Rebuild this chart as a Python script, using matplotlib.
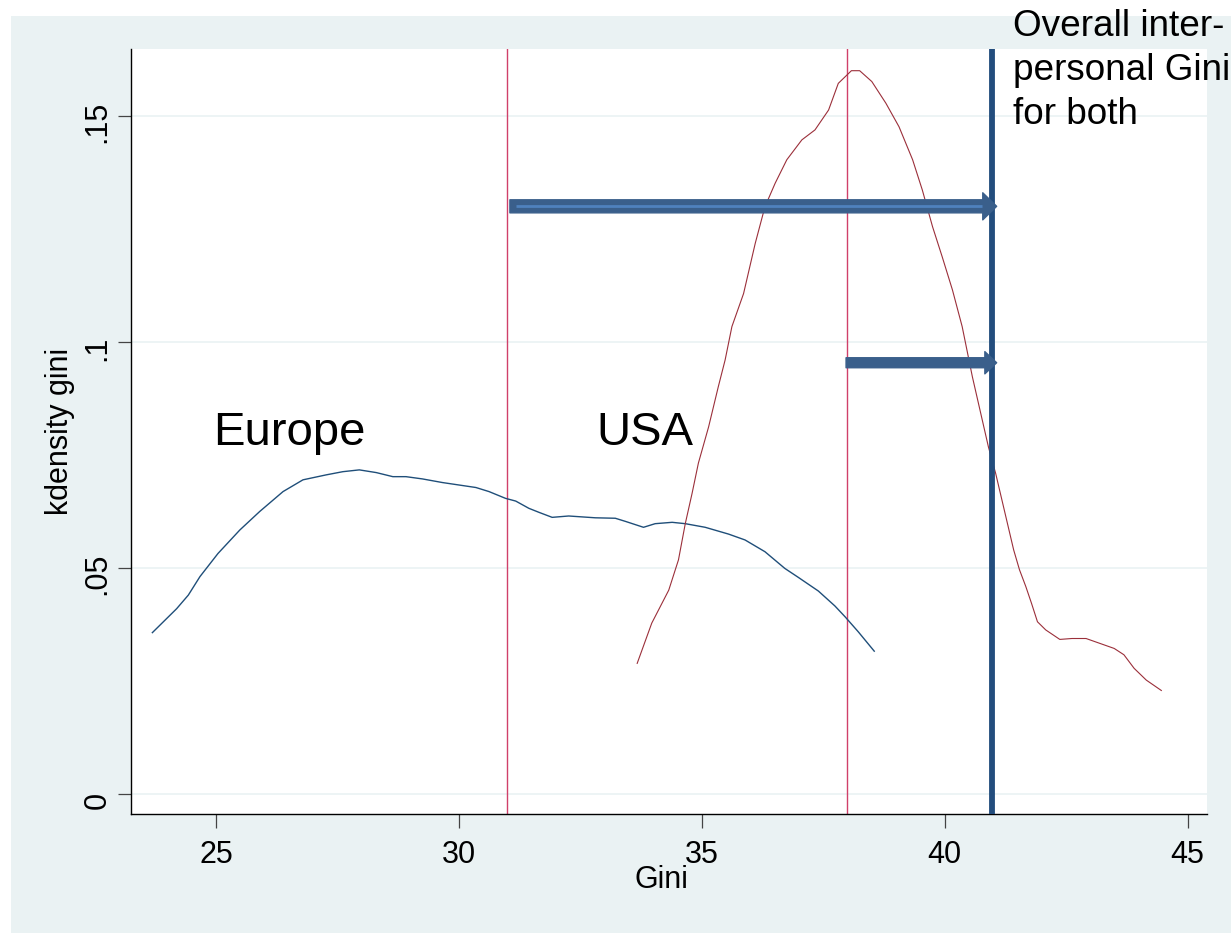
import matplotlib
matplotlib.use("Agg")
import matplotlib.pyplot as plt
import matplotlib.transforms as mtransforms
from matplotlib.patches import Rectangle

plt.rcParams['font.family'] = ['Liberation Sans', 'DejaVu Sans']

# ---------------- data ----------------
europe_x = [23.69, 24.19, 24.43, 24.67, 25.04, 25.49, 25.90, 26.38, 26.79, 27.27,
            27.61, 27.95, 28.30, 28.64, 28.91, 29.25, 29.66, 30.35, 30.62, 30.96,
            31.17, 31.44, 31.65, 31.92, 32.26, 32.81, 33.22, 33.43, 33.80, 34.04,
            34.39, 34.66, 35.07, 35.55, 35.89, 36.30, 36.71, 36.99, 37.40, 37.74,
            37.95, 38.22, 38.55]
europe_y = [.0357, .0410, .0440, .0481, .0532, .0584, .0625, .0669, .0695, .0706,
            .0713, .0717, .0711, .0702, .0702, .0697, .0689, .0678, .0669, .0654,
            .0648, .0632, .0623, .0612, .0615, .0611, .0610, .0603, .0590, .0598,
            .0601, .0598, .0590, .0575, .0562, .0536, .0499, .0479, .0449, .0416,
            .0392, .0359, .0316]

usa_x = [33.67, 33.97, 34.32, 34.52, 34.66, 34.80, 34.93, 35.14, 35.34, 35.48,
         35.62, 35.86, 36.10, 36.30, 36.51, 36.75, 37.06, 37.33, 37.61, 37.81,
         38.08, 38.25, 38.50, 38.79, 39.06, 39.34, 39.54, 39.75, 39.95, 40.16,
         40.36, 40.57, 40.90, 41.05, 41.42, 41.54, 41.67, 41.79, 41.91, 42.08,
         42.37, 42.62, 42.91, 43.20, 43.49, 43.69, 43.90, 44.15, 44.46]
usa_y = [.0289, .0378, .0451, .0518, .0598, .0665, .0732, .0812, .0901, .0960,
         .1034, .1107, .1218, .1299, .1351, .1403, .1447, .1469, .1513, .1572,
         .1600, .1600, .1576, .1528, .1476, .1403, .1336, .1255, .1188, .1115,
         .1034, .0923, .0768, .0709, .0540, .0496, .0459, .0421, .0381, .0363,
         .0342, .0344, .0344, .0333, .0322, .0308, .0278, .0252, .0229]

mean_lines = [30.99, 37.99]          # thin red reference lines
overall_gini = 40.97                 # thick blue line
arrow_starts = [31.05, 37.97]
arrow_ys = [0.1300, 0.0954]

x_ticks = [25, 30, 35, 40, 45]
y_ticks = [0, 0.05, 0.1, 0.15]
y_ticklabels = ["0", ".05", ".1", ".15"]

# ---------------- figure ----------------
W, H = 1231, 935
fig = plt.figure(figsize=(W / 100, H / 100), dpi=100)
fig.patch.set_facecolor("white")
bg = "#EAF2F3"
fig.patches.append(Rectangle((11 / W, 2 / H), 1 - 11 / W, (933 - 16) / H,
                             transform=fig.transFigure, facecolor=bg,
                             edgecolor="none", zorder=-10))

L, R, T, B = 131, 1207, 49, 814
ax = fig.add_axes([L / W, 1 - B / H, (R - L) / W, (B - T) / H])
ax.set_zorder(1)
ax.set_facecolor("white")
ax.set_xlim(23.25, 45.40)
ax.set_ylim(-0.00442, 0.1648)

for s in ["top", "right"]:
    ax.spines[s].set_visible(False)
for s in ["left", "bottom"]:
    ax.spines[s].set_color("black")
    ax.spines[s].set_linewidth(1.0)

ax.set_xticks(x_ticks)
ax.set_xticklabels([str(t) for t in x_ticks])
ax.set_yticks(y_ticks)
ax.set_yticklabels(y_ticklabels)
ax.tick_params(axis="x", length=10, width=0.9, color="#444444", labelsize=22, pad=9)
ax.tick_params(axis="y", length=9.4, width=0.9, color="#444444", labelsize=22, pad=4,
               labelrotation=90)
for lab in ax.get_yticklabels():
    lab.set_va("center")
    lab.set_transform(lab.get_transform() +
                      mtransforms.ScaledTranslation(0, -6 / 100, fig.dpi_scale_trans))

ax.yaxis.grid(True, color=bg, linewidth=1.2)
ax.set_axisbelow(True)

ax.set_xlabel("Gini", fontsize=22)
ax.set_ylabel("kdensity gini", fontsize=22)
ax.xaxis.set_label_coords((661 - L) / (R - L), -(880 - B) / (B - T), transform=ax.transAxes)
ax.xaxis.label.set_va("center")
ax.yaxis.set_label_coords(-(L - 60) / (R - L), 0.5, transform=ax.transAxes)
ax.yaxis.label.set_va("center")

# curves
ax.plot(europe_x, europe_y, color="#1F4E79", linewidth=1.0, zorder=3)
ax.plot(usa_x, usa_y, color="#9B2F3A", linewidth=0.8, zorder=3)

# reference lines
for m in mean_lines:
    ax.axvline(m, color="#D0406A", linewidth=1.0, zorder=2)
ax.axvline(overall_gini, color="#234D7D", linewidth=4.2, zorder=4)

# arrows
arrow_col = "#3A5F8B"
ax.annotate("", xy=(overall_gini + 0.1, arrow_ys[0]), xytext=(arrow_starts[0], arrow_ys[0]),
            arrowprops=dict(arrowstyle="simple,head_length=1.0,head_width=1.95,tail_width=0.94",
                            color=arrow_col, mutation_scale=10, shrinkA=0, shrinkB=0),
            zorder=5)
ax.plot([arrow_starts[0] + 0.12, overall_gini - 0.2], [arrow_ys[0], arrow_ys[0]],
        color="#4F81BD", linewidth=2.0, zorder=6, solid_capstyle="butt")
ax.annotate("", xy=(overall_gini + 0.1, arrow_ys[1]), xytext=(arrow_starts[1], arrow_ys[1]),
            arrowprops=dict(arrowstyle="simple,head_length=0.85,head_width=1.6,tail_width=0.72",
                            color=arrow_col, mutation_scale=10, shrinkA=0, shrinkB=0),
            zorder=5)

# texts
ax.text(24.95, 0.0772, "Europe", fontsize=34, va="baseline", ha="left", zorder=7)
ax.text(32.84, 0.0772, "USA", fontsize=34, va="baseline", ha="left", zorder=7)

lines = ["Overall inter-", "personal Gini", "for both"]
baselines = [36, 80, 124]
for txt, by in zip(lines, baselines):
    fig.text(1013 / W, 1 - by / H, txt, fontsize=26.6, va="baseline", ha="left", zorder=5)

fig.savefig("out.png", dpi=100, facecolor=fig.get_facecolor())
